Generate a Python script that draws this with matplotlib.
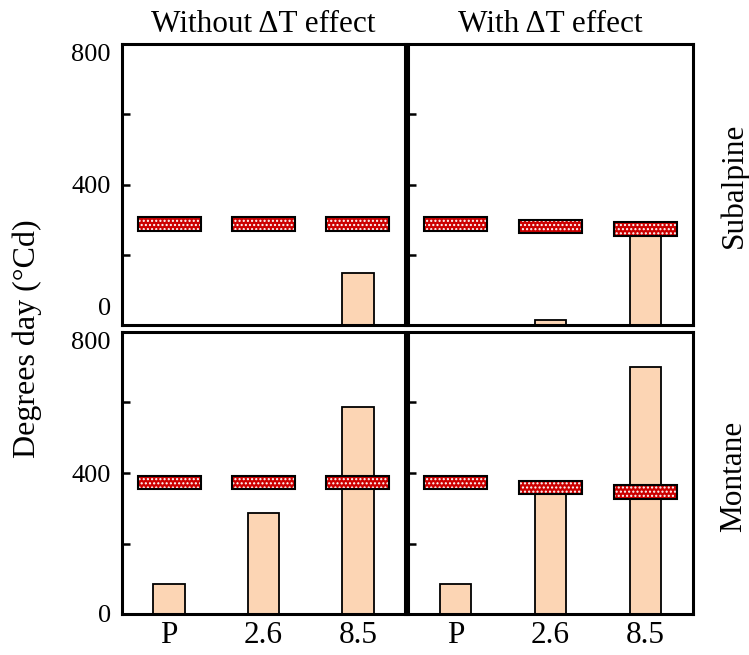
import matplotlib
matplotlib.use("Agg")
import matplotlib.pyplot as plt
import matplotlib.transforms as mtransforms

plt.rcParams['font.family'] = ['Liberation Serif', 'DejaVu Serif']
plt.rcParams['hatch.linewidth'] = 1.0

# scenarios on the x axis
scenarios = ["P", "2.6", "8.5"]

# accumulated degree days (bars)
sub_without = [0, 0, 148]
sub_with = [0, 14, 258]
mon_without = [85, 287, 588]
mon_with = [85, 345, 702]

# requirement range (red boxes): low / high
sub_without_lo = [268, 268, 268]
sub_without_hi = [307, 307, 307]
sub_with_lo = [268, 262, 254]
sub_with_hi = [307, 300, 292]
mon_without_lo = [354, 354, 354]
mon_without_hi = [392, 392, 392]
mon_with_lo = [354, 340, 327]
mon_with_hi = [392, 377, 367]

W, H = 749, 655
fig = plt.figure(figsize=(W / 100, H / 100), dpi=100)


def px_axes(x0, y0, x1, y1):
    return fig.add_axes([x0 / W, 1 - y1 / H, (x1 - x0) / W, (y1 - y0) / H])


ax_tl = px_axes(122, 44, 405, 325)
ax_tr = px_axes(408, 44, 693, 325)
ax_bl = px_axes(122, 332, 405, 614)
ax_br = px_axes(408, 332, 693, 614)

panels = [
    (ax_tl, sub_without, sub_without_lo, sub_without_hi),
    (ax_tr, sub_with, sub_with_lo, sub_with_hi),
    (ax_bl, mon_without, mon_without_lo, mon_without_hi),
    (ax_br, mon_with, mon_with_lo, mon_with_hi),
]

xpos = [1, 2, 3]
for ax, bars, lo, hi in panels:
    ax.bar(xpos, bars, width=0.335, color="#fcd5b4", edgecolor="black",
           linewidth=1.3, zorder=2)
    heights = [h - l for l, h in zip(lo, hi)]
    ax.bar(xpos, heights, bottom=lo, width=0.67, color="#cc0000",
           edgecolor="white", hatch="....", linewidth=0, zorder=3)
    ax.bar(xpos, heights, bottom=lo, width=0.67, facecolor="none",
           edgecolor="black", linewidth=1.5, zorder=4)
    ax.set_xlim(0.5, 3.5)
    ax.set_ylim(0, 800)
    for s in ax.spines.values():
        s.set_linewidth(2.2)
    ax.set_yticks([0, 200, 400, 600, 800])
    ax.tick_params(axis="y", direction="in", length=6, width=1.8, left=True, right=False)
    ax.tick_params(axis="x", length=0)
    ax.set_xticks(xpos)
    ax.set_xticklabels([])
    ax.set_yticklabels([])

for ax in (ax_bl, ax_br):
    ax.set_xticklabels(scenarios, fontsize=22.5)
    ax.tick_params(axis="x", pad=5)

for ax in (ax_tl, ax_bl):
    ax.set_yticklabels(["0", "", "400", "", "800"], fontsize=19)
    ax.tick_params(axis="y", pad=8)

labs = ax_tl.get_yticklabels()
labs[0].set_va("bottom")
labs[0].set_transform(labs[0].get_transform() + mtransforms.ScaledTranslation(0, 5 / 100, fig.dpi_scale_trans))
labs[4].set_va("top")
labs = ax_bl.get_yticklabels()
labs[4].set_va("top")

ax_tl.set_title("Without \u0394T effect", fontsize=22.5, pad=9)
ax_tr.set_title("With \u0394T effect", fontsize=22.5, pad=9)

fig.text(734 / W, 1 - 185 / H, "Subalpine", rotation=90, fontsize=22.5,
         ha="center", va="center")
fig.text(734 / W, 1 - 476 / H, "Montane", rotation=90, fontsize=22.5,
         ha="center", va="center")
fig.text(27 / W, 1 - 339 / H, "Degrees day (\u00b0Cd)", rotation=90, fontsize=23,
         ha="center", va="center")

fig.savefig("out.png", dpi=100)
